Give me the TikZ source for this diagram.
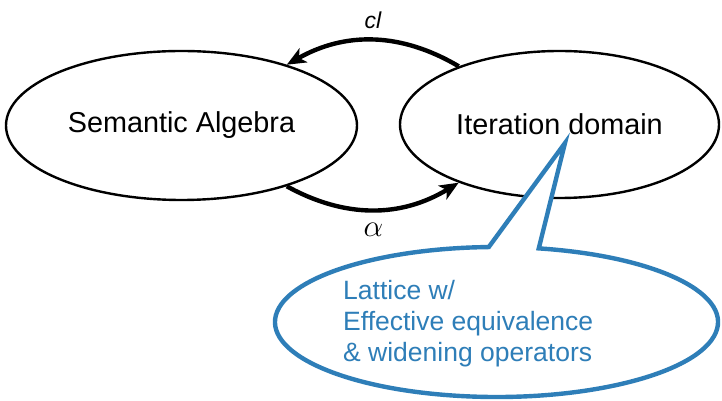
\documentclass[tikz,border=0pt]{standalone}
\usepackage{fontspec}
\setmainfont{Liberation Sans}
\usetikzlibrary{shapes.geometric,arrows.meta,calc}
\definecolor{calloutblue}{HTML}{2E7EB8}
\tikzset{
  domainbox/.style={ellipse, draw=black, line width=2.4pt, inner sep=0pt,
    font=\fontsize{28.8}{32}\selectfont},
  maparrow/.style={line width=4.4pt,
    -{Stealth[length=19pt,width=16pt,inset=5pt]}},
  bubbleline/.style={draw=calloutblue, line width=4.4pt, fill=white, line join=miter},
  bubbletext/.style={text=calloutblue, align=left, inner sep=0pt,
    font=\fontsize{26.5}{31}\selectfont}
}
\begin{document}
\begin{tikzpicture}[x=1pt,y=1pt]
  \useasboundingbox (0,0) rectangle (722,401);

  % the two domains
  \node[domainbox, minimum width=351pt, minimum height=149pt] (sem) at (181.5,275.5) {Semantic Algebra};
  \node[domainbox, minimum width=319pt, minimum height=147pt] (iter) at (559.5,276.5) {Iteration domain};

  % closure and abstraction maps
  \draw[maparrow] (iter.150) to[bend right=30] node[above=6pt, font=\fontsize{23}{23}\selectfont\itshape] (cl) {cl} (sem.30);
  \draw[maparrow] (sem.-30) to[bend right=30] node[below=6pt, font=\Huge, scale=1.25] (alpha) {$\alpha$} (iter.210);

  % speech bubble attached to the iteration domain
  \coordinate (tip) at (565,258);
  \coordinate (bubble) at (496.5,79);
  \draw[bubbleline] ($(bubble)+(79:221.5pt and 75pt)$)
      arc[start angle=79, end angle=-268, x radius=221.5, y radius=75]
      -- (tip) -- cycle;
  \node[bubbletext, anchor=west] (note) at (343,77)
    {Lattice w/\\Effective equivalence\\\& widening operators};
\end{tikzpicture}
\end{document}
